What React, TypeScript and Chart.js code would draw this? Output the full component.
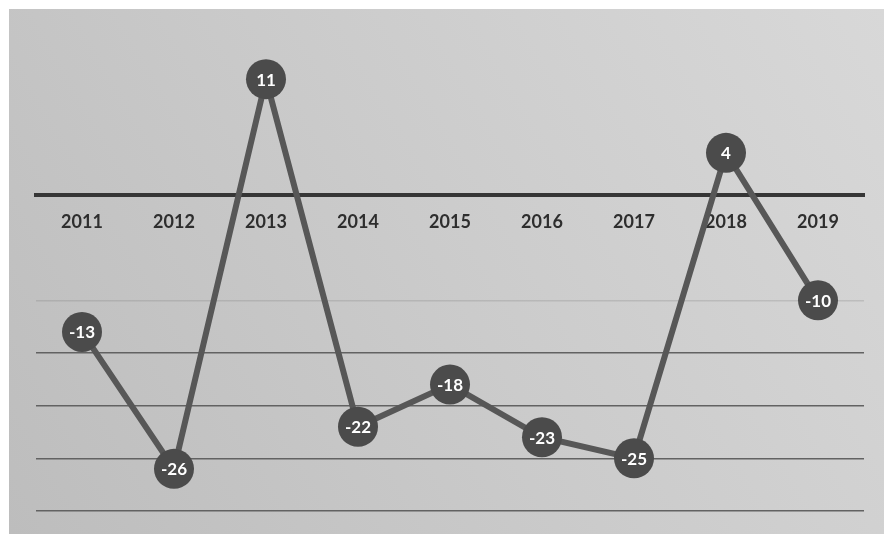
import React, { useEffect, useRef } from "react";
import { Chart, registerables } from "chart.js";

Chart.register(...registerables);

const years = ["2011", "2012", "2013", "2014", "2015", "2016", "2017", "2018", "2019"];
const values = [-13, -26, 11, -22, -18, -23, -25, 4, -10];
const yMin = -30;
const yMax = 15;
const yStep = 5;

const bgPlugin = {
  id: "bgPanel",
  beforeDraw(chart: any) {
    const { ctx, width, height } = chart;
    ctx.save();
    ctx.fillStyle = "#ffffff";
    ctx.fillRect(0, 0, width, height);
    const g = ctx.createLinearGradient(9, height, width, 9);
    g.addColorStop(0, "#bdbdbd");
    g.addColorStop(0.5, "#cbcbcb");
    g.addColorStop(1, "#d8d8d8");
    ctx.fillStyle = g;
    ctx.fillRect(9, 9, width - 9, height - 9);
    ctx.restore();
  },
};

const labelPlugin = {
  id: "pointValueLabels",
  afterDatasetsDraw(chart: any) {
    const { ctx } = chart;
    const meta = chart.getDatasetMeta(0);
    ctx.save();
    ctx.fillStyle = "#ffffff";
    ctx.font = "bold 17px Lato, 'Open Sans', sans-serif";
    ctx.textAlign = "center";
    ctx.textBaseline = "middle";
    meta.data.forEach((pt: any, i: number) => {
      ctx.fillText(String(values[i]), pt.x, pt.y + 1);
    });
    ctx.restore();
  },
};

export default function App() {
  const ref = useRef<HTMLCanvasElement | null>(null);

  useEffect(() => {
    if (!ref.current) return;
    const chart = new Chart(ref.current, {
      type: "line",
      data: {
        labels: years,
        datasets: [
          {
            data: values,
            borderColor: "#575757",
            borderWidth: 6,
            backgroundColor: "#4b4b4b",
            pointBackgroundColor: "#4b4b4b",
            pointBorderColor: "#4b4b4b",
            pointBorderWidth: 0,
            pointRadius: 20,
            pointHoverRadius: 20,
            tension: 0,
            fill: false,
          },
        ],
      },
      options: {
        responsive: false,
        animation: false,
        events: [],
        layout: { padding: { left: 36, right: 17, top: 37, bottom: 23 } },
        plugins: {
          legend: { display: false },
          tooltip: { enabled: false },
          title: { display: false },
        },
        scales: {
          x: {
            type: "category",
            offset: true,
            position: { y: 0 } as any,
            afterFit: (scale: any) => {
              scale.height = 0;
            },
            grid: { display: false, drawTicks: false },
            border: { display: true, color: "#363636", width: 4 },
            ticks: {
              padding: 16,
              color: "#2e2e2e",
              font: { family: "Lato, 'Open Sans', sans-serif", size: 18, weight: "bold" },
              maxRotation: 0,
            },
          },
          y: {
            min: yMin,
            max: yMax,
            ticks: { display: false, stepSize: yStep },
            border: { display: false },
            grid: {
              drawTicks: false,
              color: (c: any) => {
                const v = c.tick ? c.tick.value : 0;
                if (v <= -15) return "#626262";
                if (v === -10) return "rgba(110,110,110,0.22)";
                return "rgba(0,0,0,0)";
              },
              lineWidth: 1.5,
            },
          },
        },
      },
      plugins: [bgPlugin, labelPlugin],
    });
    return () => chart.destroy();
  }, []);

  return (
    <div style={{ position: "absolute", left: 0, top: 0, width: 884, height: 534 }}>
      <canvas ref={ref} width={884} height={534} style={{ display: "block" }} />
    </div>
  );
}
